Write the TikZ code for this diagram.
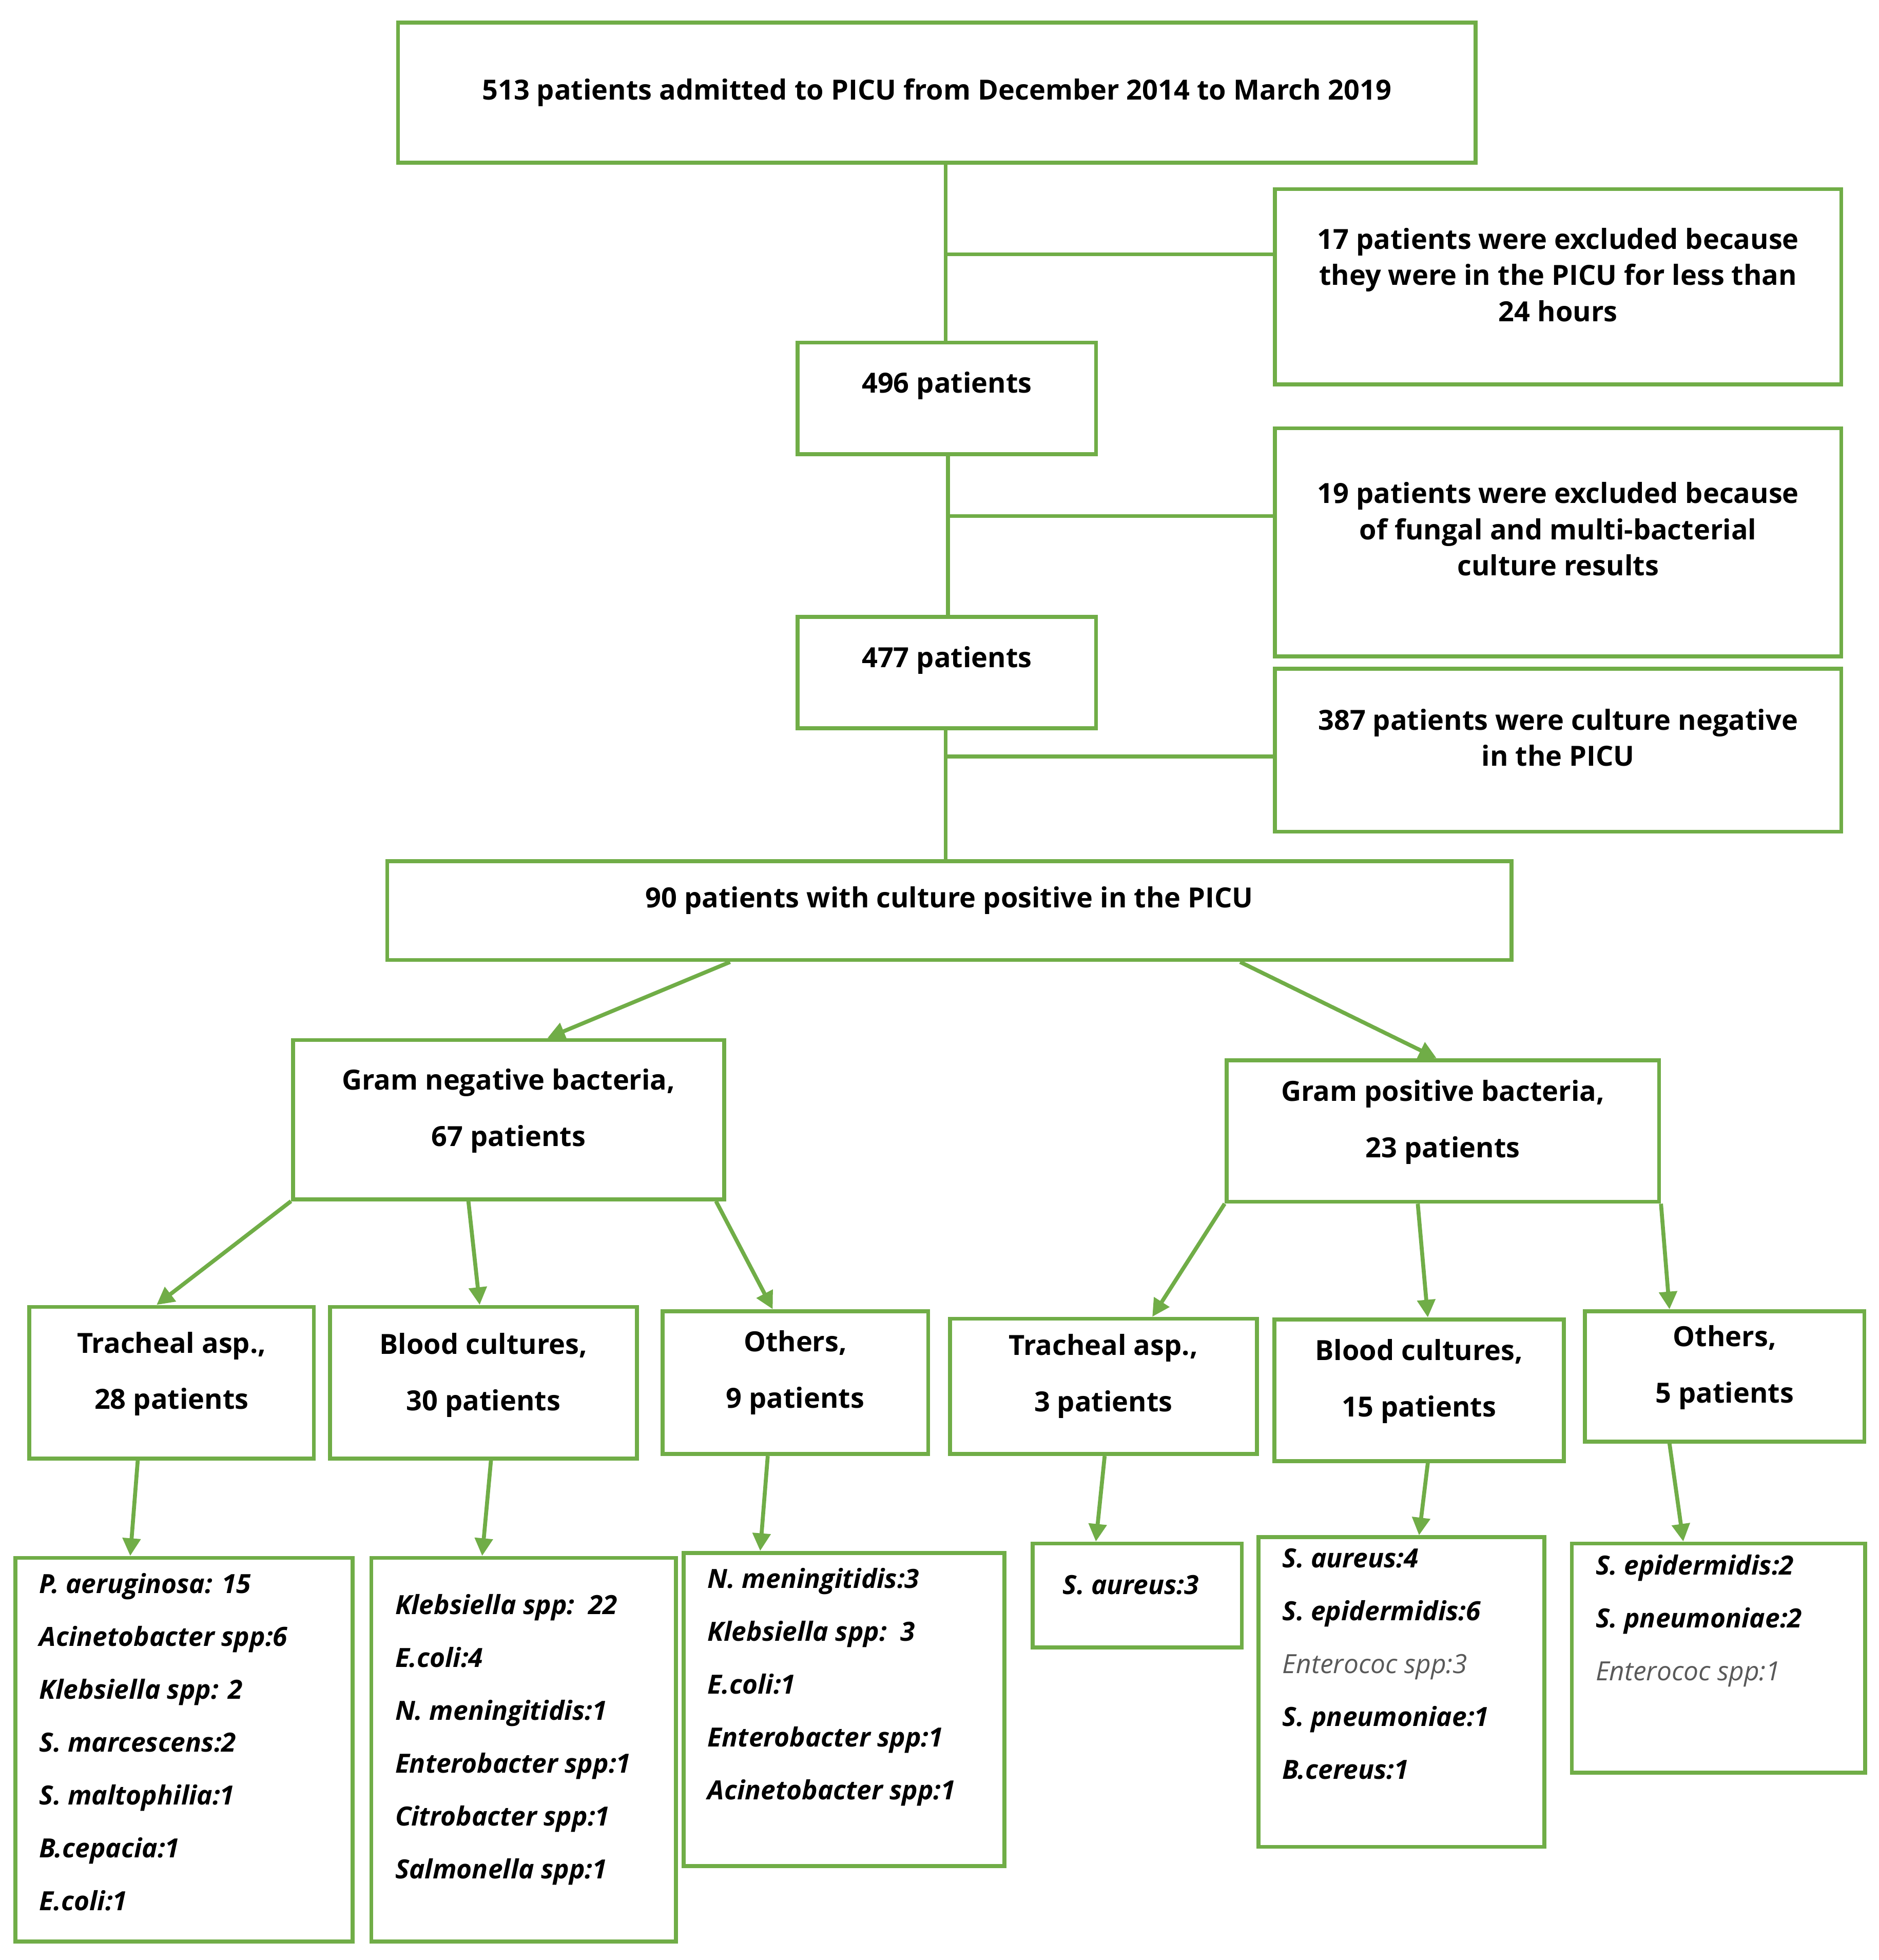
\documentclass[tikz,border=0pt]{standalone}
\usepackage{fontspec}
\setmainfont{Open Sans}
\usetikzlibrary{calc,positioning,arrows.meta}
\definecolor{frame}{HTML}{70AD47}
\definecolor{dimtext}{HTML}{595959}
\tikzset{
  box/.style={draw=frame,line width=0.9pt,rectangle,inner sep=0pt},
  lbl/.style={font=\fontsize{6.3}{8.2}\selectfont\bfseries,align=center,inner sep=0pt},
  two/.style={font=\fontsize{6.3}{12.8}\selectfont\bfseries,align=center,inner sep=0pt},
  lst/.style={font=\fontsize{6.0}{12}\selectfont\bfseries\itshape,align=left,anchor=north west,inner sep=0pt},
  link/.style={draw=frame,line width=0.9pt},
  arr/.style={link,-{Triangle[length=4pt,width=4pt]}}
}
\newcommand{\gr}[1]{{\mdseries\color{dimtext}#1}}
\begin{document}
\begin{tikzpicture}[x=0.01cm,y=-0.01cm]
\useasboundingbox (0,0) rectangle (1500,1565);
% main column
\node (top) [box,minimum width=8.6cm,minimum height=1.12cm] at (748,74) {};
\node [lbl] at (top) {513 patients admitted to PICU from December 2014 to March 2019};
\node (n496) [box,minimum width=2.38cm,minimum height=0.89cm] at (756,318) {};
\node [lbl] at ([yshift=0.1cm]n496) {496 patients};
\node (n477) [box,minimum width=2.38cm,minimum height=0.89cm] at (756,537) {};
\node [lbl] at ([yshift=0.1cm]n477) {477 patients};
\node (n90) [box,minimum width=8.97cm,minimum height=0.79cm] at (758,727) {};
\node [lbl] at ([yshift=0.08cm]n90) {90 patients with culture positive in the PICU};
% exclusions
\node (ex1) [box,minimum width=4.52cm,minimum height=1.56cm] at (1244,229) {};
\node [lbl,anchor=north] at ([yshift=-0.32cm]ex1.north) {17 patients were excluded because\\they were in the PICU for less than\\24 hours};
\node (ex2) [box,minimum width=4.52cm,minimum height=1.82cm] at (1244,433) {};
\node [lbl,anchor=north] at ([yshift=-0.44cm]ex2.north) {19 patients were excluded because\\of fungal and multi-bacterial\\culture results};
\node (ex3) [box,minimum width=4.52cm,minimum height=1.30cm] at (1244,599) {};
\node [lbl,anchor=north] at ([yshift=-0.33cm]ex3.north) {387 patients were culture negative\\in the PICU};
\coordinate (j1) at (755,203);
\coordinate (j2) at (757,412);
\coordinate (j3) at (755,604);
\draw [link] (top.south -| j1) -- (n496.north -| j1);
\draw [link] (j1) -- (ex1.west |- j1);
\draw [link] (n496.south -| j2) -- (n477.north -| j2);
\draw [link] (j2) -- (ex2.west |- j2);
\draw [link] (n477.south -| j3) -- (n90.north -| j3);
\draw [link] (j3) -- (ex3.west |- j3);
% gram groups
\node (gneg) [box,minimum width=3.44cm,minimum height=1.27cm] at (406,894) {};
\node [two] at ([yshift=0.07cm]gneg) {Gram negative bacteria,\\67 patients};
\node (gpos) [box,minimum width=3.45cm,minimum height=1.13cm] at (1152,903) {};
\node [two] at ([yshift=0.07cm]gpos) {Gram positive bacteria,\\23 patients};
\draw [arr] ([xshift=-1.75cm]n90.south) -- ([xshift=0.31cm]gneg.north);
\draw [arr] ([xshift=2.32cm]n90.south) -- ([xshift=-0.05cm]gpos.north);
% sample types
\node (tr1) [box,minimum width=2.27cm,minimum height=1.21cm] at (137,1104) {};
\node [two] at ([yshift=0.07cm]tr1) {Tracheal asp.,\\28 patients};
\node (bl1) [box,minimum width=2.45cm,minimum height=1.21cm] at (386,1104) {};
\node [two] at ([yshift=0.06cm]bl1) {Blood cultures,\\30 patients};
\node (ot1) [box,minimum width=2.12cm,minimum height=1.14cm] at (635,1104) {};
\node [two] at ([yshift=0.08cm]ot1) {Others,\\9 patients};
\node (tr2) [box,minimum width=2.45cm,minimum height=1.08cm] at (881,1107) {};
\node [two] at ([yshift=0.08cm]tr2) {Tracheal asp.,\\3 patients};
\node (bl2) [box,minimum width=2.31cm,minimum height=1.13cm] at (1133,1110) {};
\node [two] at ([yshift=0.07cm]bl2) {Blood cultures,\\15 patients};
\node (ot2) [box,minimum width=2.23cm,minimum height=1.04cm] at (1377,1099) {};
\node [two] at ([yshift=0.07cm]ot2) {Others,\\5 patients};
\draw [arr] (gneg.south west) -- ([xshift=-0.12cm]tr1.north);
\draw [arr] ([xshift=-0.32cm]gneg.south) -- ([xshift=-0.03cm]bl1.north);
\draw [arr] ([xshift=-0.08cm]gneg.south east) -- ([xshift=-0.18cm]ot1.north);
\draw [arr] (gpos.south west) -- ([xshift=0.39cm]tr2.north);
\draw [arr] ([xshift=-0.20cm]gpos.south) -- ([xshift=0.07cm]bl2.north);
\draw [arr] (gpos.south east) -- ([xshift=-0.44cm]ot2.north);
% organism lists
\node (sp1) [box,minimum width=2.69cm,minimum height=3.06cm] at (147,1397) {};
\node [lst] at ([shift={(0.2cm,-0.13cm)}]sp1.north west) {P. aeruginosa: 15\\Acinetobacter spp:6\\Klebsiella spp: 2\\S. marcescens:2\\S. maltophilia:1\\B.cepacia:1\\E.coli:1};
\node (sp2) [box,minimum width=2.43cm,minimum height=3.06cm] at (418,1397) {};
\node [lst] at ([shift={(0.2cm,-0.3cm)}]sp2.north west) {Klebsiella spp:\ \ 22\\E.coli:4\\N. meningitidis:1\\Enterobacter spp:1\\Citrobacter spp:1\\Salmonella spp:1};
\node (sp3) [box,minimum width=2.56cm,minimum height=2.50cm] at (674,1365) {};
\node [lst] at ([shift={(0.2cm,-0.13cm)}]sp3.north west) {N. meningitidis:3\\Klebsiella spp:\ \ 3\\E.coli:1\\Enterobacter spp:1\\Acinetobacter spp:1};
\node (sp4) [box,minimum width=1.67cm,minimum height=0.83cm] at (908,1274) {};
\node [lst] at ([shift={(0.25cm,-0.26cm)}]sp4.north west) {S. aureus:3};
\node (sp5) [box,minimum width=2.28cm,minimum height=2.47cm] at (1119,1351) {};
\node [lst] at ([shift={(0.2cm,-0.1cm)}]sp5.north west) {S. aureus:4\\S. epidermidis:6\\\gr{Enterococ spp:3}\\S. pneumoniae:1\\B.cereus:1};
\node (sp6) [box,minimum width=2.34cm,minimum height=1.83cm] at (1372,1324) {};
\node [lst] at ([shift={(0.2cm,-0.1cm)}]sp6.north west) {S. epidermidis:2\\S. pneumoniae:2\\\gr{Enterococ spp:1}};
\draw [arr] ([xshift=-0.27cm]tr1.south) -- ([xshift=-0.43cm]sp1.north);
\draw [arr] ([xshift=0.06cm]bl1.south) -- ([xshift=-0.33cm]sp2.north);
\draw [arr] ([xshift=-0.22cm]ot1.south) -- ([xshift=-0.67cm]sp3.north);
\draw [arr] ([xshift=0.01cm]tr2.south) -- ([xshift=-0.33cm]sp4.north);
\draw [arr] ([xshift=0.07cm]bl2.south) -- ([xshift=0.14cm]sp5.north);
\draw [arr] ([xshift=-0.44cm]ot2.south) -- ([xshift=-0.28cm]sp6.north);
\end{tikzpicture}
\end{document}
